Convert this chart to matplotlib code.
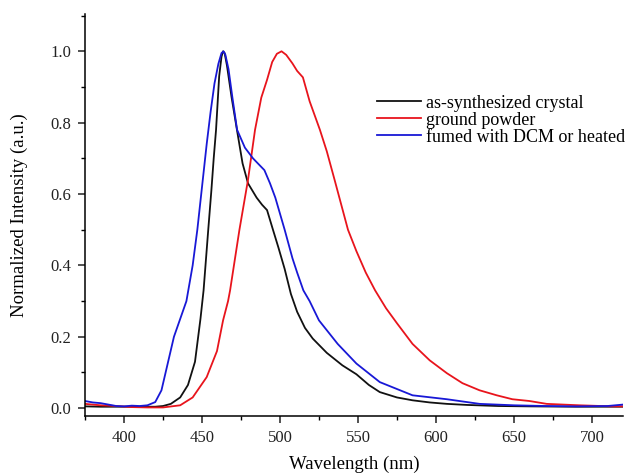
import numpy as np
import matplotlib
matplotlib.use("Agg")
import matplotlib.pyplot as plt
from matplotlib.ticker import MultipleLocator, FormatStrFormatter

plt.rcParams['font.family'] = ['Liberation Serif', 'DejaVu Serif']

# as-synthesized crystal (black)
wl_black = [375, 385, 395, 405, 415, 420, 425, 430, 436, 441, 445.5, 449, 451, 454, 456, 457.5,
            459, 461, 462.5, 463.5, 464.5, 466, 469, 472.4, 476, 479.5, 485, 488.5, 491.7, 495.5, 499,
            503, 507, 511, 516, 521, 530, 540, 549, 557, 564, 575, 585, 596, 607, 620, 640, 660, 690, 720]
int_black = [0.005, 0.004, 0.004, 0.004, 0.004, 0.004, 0.006, 0.012, 0.03, 0.065, 0.13, 0.25, 0.33, 0.5,
             0.61, 0.70, 0.78, 0.93, 0.985, 1.0, 0.995, 0.96, 0.87, 0.78, 0.686, 0.63, 0.59, 0.57, 0.555, 0.5, 0.45,
             0.39, 0.32, 0.27, 0.225, 0.195, 0.155, 0.12, 0.095, 0.065, 0.045, 0.03, 0.022, 0.016, 0.012, 0.009, 0.006, 0.005, 0.004, 0.004]

# ground powder (red)
wl_red = [375, 385, 395, 405, 415, 425, 436, 444, 453, 459.6, 463.5, 466.7, 468, 474, 479.5, 484,
          488, 491.7, 495, 498, 501, 504, 508, 511, 514.7, 519, 525.6, 530, 535, 543.6, 549, 555, 561, 568, 575, 585, 596,
          607, 617, 628, 639, 649, 660, 671, 692, 713, 720]
int_red = [0.012, 0.008, 0.006, 0.003, 0.002, 0.002, 0.008, 0.03, 0.087, 0.16, 0.246, 0.30, 0.33, 0.5,
           0.64, 0.78, 0.87, 0.92, 0.97, 0.993, 1.0, 0.99, 0.966, 0.945, 0.927, 0.86, 0.78, 0.72, 0.64, 0.5, 0.44,
           0.38, 0.33, 0.28, 0.238, 0.18, 0.134, 0.098, 0.07, 0.05, 0.036, 0.025, 0.02, 0.012, 0.008, 0.005, 0.005]

# fumed with DCM or heated (blue)
wl_blue = [375, 380, 385, 390, 395, 400, 405, 410, 415, 420, 424, 428, 432, 436, 440, 444, 447, 450, 453,
           455.5, 458, 460.5, 462.5, 463.8, 465, 467, 469.5, 472.5, 477.5, 482.7, 486, 490, 493.6, 497, 503, 508,
           511, 515, 519, 525, 537, 549, 564, 585, 607, 628, 650, 670, 690, 710, 720]
int_blue = [0.02, 0.016, 0.014, 0.01, 0.006, 0.005, 0.007, 0.006, 0.008, 0.017, 0.05, 0.125, 0.2, 0.25,
            0.30, 0.40, 0.50, 0.62, 0.74, 0.83, 0.91, 0.965, 0.995, 1.0, 0.99, 0.95, 0.87, 0.78, 0.73, 0.70, 0.685, 0.667,
            0.63, 0.59, 0.5, 0.42, 0.38, 0.33, 0.30, 0.246, 0.18, 0.125, 0.073, 0.036, 0.025, 0.012, 0.008,
            0.006, 0.005, 0.006, 0.01]

labels = ['as-synthesized crystal', 'ground powder', 'fumed with DCM or heated']
colors = ['#111111', '#e8141c', '#1818d6']

fig = plt.figure(figsize=(6.3, 4.73), dpi=100)
ax = fig.add_axes([0.135, 0.1205, 0.854, 0.8495])

ax.plot(wl_black, int_black, color=colors[0], lw=1.3, label=labels[0])
ax.plot(wl_red, int_red, color=colors[1], lw=1.3, label=labels[1])
ax.plot(wl_blue, int_blue, color=colors[2], lw=1.3, label=labels[2])

ax.set_xlim(375, 720)
ax.set_ylim(-0.022, 1.104)
ax.xaxis.set_major_locator(MultipleLocator(50))
ax.xaxis.set_minor_locator(MultipleLocator(25))
ax.yaxis.set_major_locator(MultipleLocator(0.2))
ax.yaxis.set_minor_locator(MultipleLocator(0.1))
ax.yaxis.set_major_formatter(FormatStrFormatter('%.1f'))

for s in ['top', 'right']:
    ax.spines[s].set_visible(False)
for s in ['left', 'bottom']:
    ax.spines[s].set_linewidth(1.1)
ax.tick_params(which='major', direction='out', length=5, width=1.1, labelsize=12, colors='#222222')
ax.tick_params(axis='x', which='major', pad=5)
ax.tick_params(axis='y', which='major', pad=5)
ax.tick_params(which='minor', direction='out', length=3, width=1.0)

ax.set_xlabel('Wavelength (nm)', fontsize=13.5, labelpad=7)
ax.set_ylabel('Normalized Intensity (a.u.)', fontsize=13.5, labelpad=16)

ax.legend(loc='upper left', bbox_to_anchor=(0.543, 0.800), frameon=False, fontsize=13,
          handlelength=2.4, handletextpad=0.3, borderpad=0, borderaxespad=0, labelspacing=0.0)

fig.savefig('out.png', dpi=100)
